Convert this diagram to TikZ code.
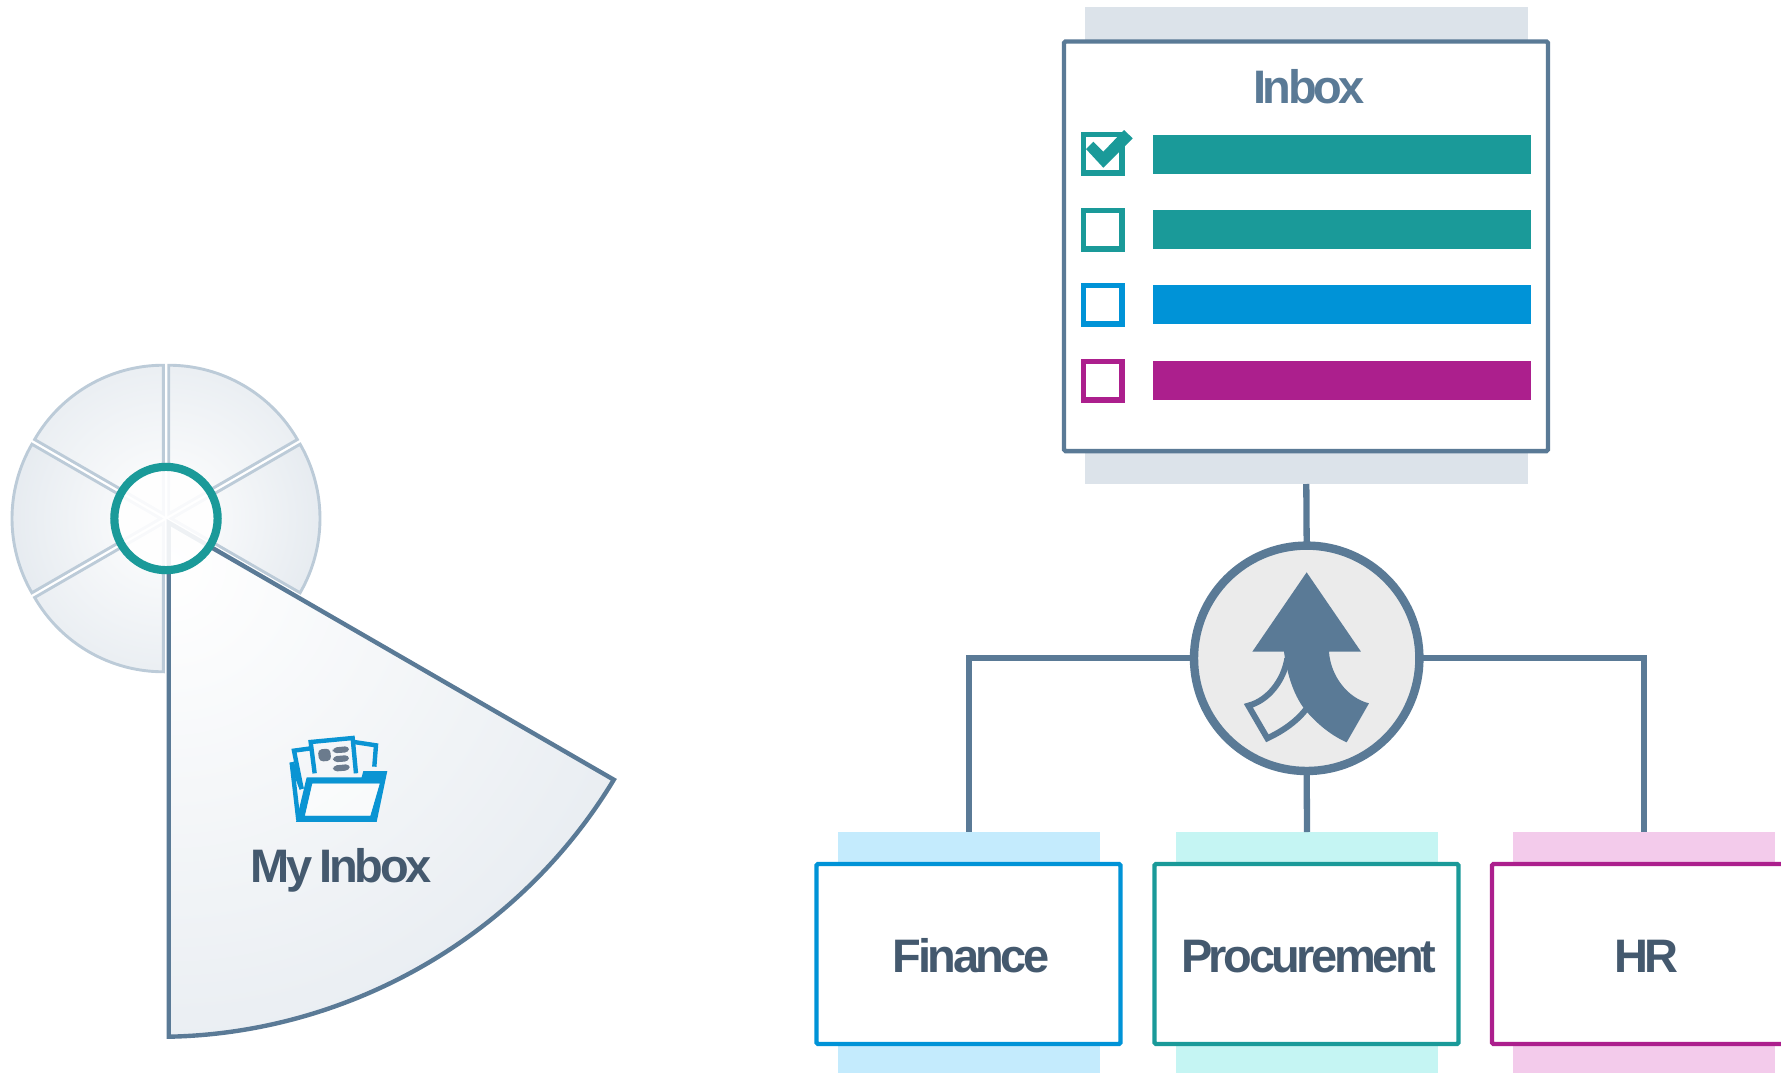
\documentclass[tikz,border=0pt]{standalone}
\usepackage{fontspec}
\setmainfont{Liberation Sans}[LetterSpace=-7.4]
\definecolor{slate}{HTML}{5A7A96}
\definecolor{ink}{HTML}{44596E}
\definecolor{teal}{HTML}{1A9A99}
\definecolor{sky}{HTML}{0093D7}
\definecolor{plum}{HTML}{AC1F8D}
\definecolor{rimgrey}{HTML}{DCE3EA}
\definecolor{wedgeline}{HTML}{BCCBD8}
\definecolor{iconblue}{HTML}{0A94D3}
\definecolor{icongrey}{HTML}{6B7B8D}
\definecolor{skyband}{HTML}{C4EBFD}
\definecolor{tealband}{HTML}{C5F5F3}
\definecolor{plumband}{HTML}{F3CBEB}
\pgfdeclareradialshading{rimfade}{\pgfpoint{0bp}{0bp}}{color(0bp)=(white); color(35.36bp)=(rimgrey); color(50bp)=(rimgrey)}
\tikzset{
  lab/.style={font=\bfseries\fontsize{47}{50}\selectfont},
  boxlab/.style={lab,text=ink,anchor=base,inner sep=0pt},
  plain/.style={inner sep=0pt,outer sep=0pt,rectangle},
  band/.style={plain,draw=none,minimum width=262pt,minimum height=241pt},
  cardbox/.style={plain,fill=white,line width=4.4pt,rounded corners=1.5pt,minimum width=304pt,minimum height=180pt},
  tick/.style={plain,fill=white,line width=5.4pt,minimum size=38.6pt},
  bar/.style={plain,minimum width=378pt,minimum height=38.7pt},
  wire/.style={draw=slate,line width=6.3pt},
  papers/.style={draw=iconblue,line width=4.4pt,miter limit=10},
}
% #1 apex offset direction, #2 start angle, #3 end angle, #4 shading radius
\newcommand{\wheelpart}[4]{%
  \begin{scope}
    \clip ([shift={(#1:5.4pt)}]166,518.5) -- ++(#2:148.6pt) arc[start angle=#2,end angle=#3,radius=148.6pt] -- cycle;
    \shade[shading=rimfade] (166,518.5) circle (#4pt);
  \end{scope}
  \draw[wedgeline,line width=2.9pt] ([shift={(#1:5.4pt)}]166,518.5) -- ++(#2:148.6pt) arc[start angle=#2,end angle=#3,radius=148.6pt] -- cycle;
}
\newcommand{\sectorpath}{(168.7,522.7) -- (613.8,779.7) .. controls (520,935.2) and (350.3,1033.2) .. (168.7,1036.7) -- cycle}
\begin{document}
\begin{tikzpicture}[x=1pt,y=-1pt]
\useasboundingbox (0,0) rectangle (1781,1073);
% wheel
\wheelpart{60}{30}{90}{185}
\wheelpart{0}{-30}{30}{156}
\wheelpart{120}{90}{150}{185}
\wheelpart{180}{150}{210}{156}
\wheelpart{240}{210}{270}{185}
% big sector
\begin{scope}
  \clip \sectorpath;
  \shade[shading=rimfade] (169,565) circle (560pt);
\end{scope}
\draw[slate,line width=4.4pt,line join=miter] \sectorpath;
\node[circle,draw=teal,line width=8.2pt,fill=white,fill opacity=.9,inner sep=0pt,outer sep=0pt,minimum size=103.3pt] (hub) at (166,518.5) {};
% folder icon
\begin{scope}[shift={(230,720)},x=.3333pt,y=-.3333pt]
  \draw[papers] (185,127) -- (205,300);
  \draw[papers] (185,127) -- (215,207);
  \draw[papers] (215,207) -- (192,92) -- (243,85);
  \draw[papers] (254,160) -- (242,66) -- (368,54) -- (378,160);
  \draw[papers] (372,66) -- (438,76) -- (433,140);
  \fill[icongrey,rounded corners=4pt] (263,89) -- (300,85) -- (304,122) -- (268,125) -- cycle;
  \fill[icongrey,rounded corners=4pt] (308,83) -- (357,78) -- (357,97) -- (308,100) -- cycle;
  \fill[icongrey,rounded corners=4pt] (308,109) -- (357,105) -- (357,124) -- (310,127) -- cycle;
  \fill[icongrey,rounded corners=4pt] (308,137) -- (359,132) -- (359,151) -- (310,155) -- cycle;
  \fill[iconblue,even odd rule,line join=round]
    (198,306) -- (230,172) -- (395,172) -- (400,153) -- (472,153) -- (440,306) -- cycle
    (247,191) -- (449,191) -- (421,287) -- (225,287) -- cycle;
  \fill[white,opacity=.6] (247,191) -- (449,191) -- (421,287) -- (225,287) -- cycle;
\end{scope}
\node[lab,text=ink,anchor=base,inner sep=0pt] (mine) at (341,882) {My\hspace{-2pt} Inbox};
% inbox card
\node[plain,fill=rimgrey,minimum width=442.5pt,minimum height=477pt] (inboxband) at (1306.3,245.5) {};
\node[plain,draw=slate,fill=white,line width=4.4pt,rounded corners=1.5pt,minimum width=484pt,minimum height=409.5pt] (inboxcard) at (1306,246.3) {};
\node[lab,text=slate,anchor=base,inner sep=0pt] (inboxtitle) at (1309,103.5) {Inbox};
\node[bar,fill=teal] (b1) at (1342,154.3) {};
\node[bar,fill=teal] (b2) at (1342,229.4) {};
\node[bar,fill=sky] (b3) at (1342,304.5) {};
\node[bar,fill=plum] (b4) at (1342,380.5) {};
\node[tick,draw=teal] (t1) at (1102.8,153.8) {};
\node[tick,draw=teal] (t2) at (1102.8,229.5) {};
\node[tick,draw=sky] (t3) at (1102.8,304.8) {};
\node[tick,draw=plum] (t4) at (1102.8,380.5) {};
\fill[teal] (1086,149) -- (1093.3,141.7) -- (1103.3,151.7) -- (1124,130) -- (1132.7,138.3) -- (1103.3,167.7) -- cycle;
% department boxes
\node[band,fill=skyband] (finband) at (969,952.5) {};
\node[band,fill=tealband] (proband) at (1307,952.5) {};
\node[band,fill=plumband] (hrband) at (1644,952.5) {};
\node[cardbox,draw=sky] (finance) at (968.5,954) {};
\node[cardbox,draw=teal] (procurement) at (1306.5,954) {};
\node[cardbox,draw=plum] (hr) at (1644,954) {};
\node[boxlab] (fintext) at (971.3,972.5) {Finance};
\node[boxlab] (protext) at (1308.6,972.5) {Procurement};
\node[boxlab] (hrtext) at (1646.5,972.5) {HR};
% merge symbol and connectors
\node[circle,draw=none,inner sep=0pt,outer sep=0pt,minimum size=225.4pt] (merge) at (1306.7,658.3) {};
\draw[wire] (inboxband.south) -- (merge.north);
\draw[wire] (merge.south) -- (proband.north);
\draw[wire,line join=miter] (merge.west) -| (finband.north);
\draw[wire,line join=miter] (merge.east) -| (hrband.north);
\node[circle,draw=slate,line width=8.4pt,fill=black!8,inner sep=0pt,outer sep=0pt,minimum size=225.4pt] at (merge) {};
\begin{scope}[shift={(1180,530)},x=.3333pt,y=-.3333pt]
  \fill[slate] (380,127) -- (543,365) -- (447,365) .. controls (452,440) and (505,505) .. (567,520) -- (500,637)
    .. controls (455,617) and (415,585) .. (380,545) .. controls (345,505) and (322,440) .. (312,365) -- (217,365) -- cycle;
  \draw[slate,line width=6pt,miter limit=10] (322,385) .. controls (312,450) and (265,512) .. (205,527) -- (262,625)
    .. controls (300,607) and (345,580) .. (378,538);
\end{scope}
\end{tikzpicture}
\end{document}
